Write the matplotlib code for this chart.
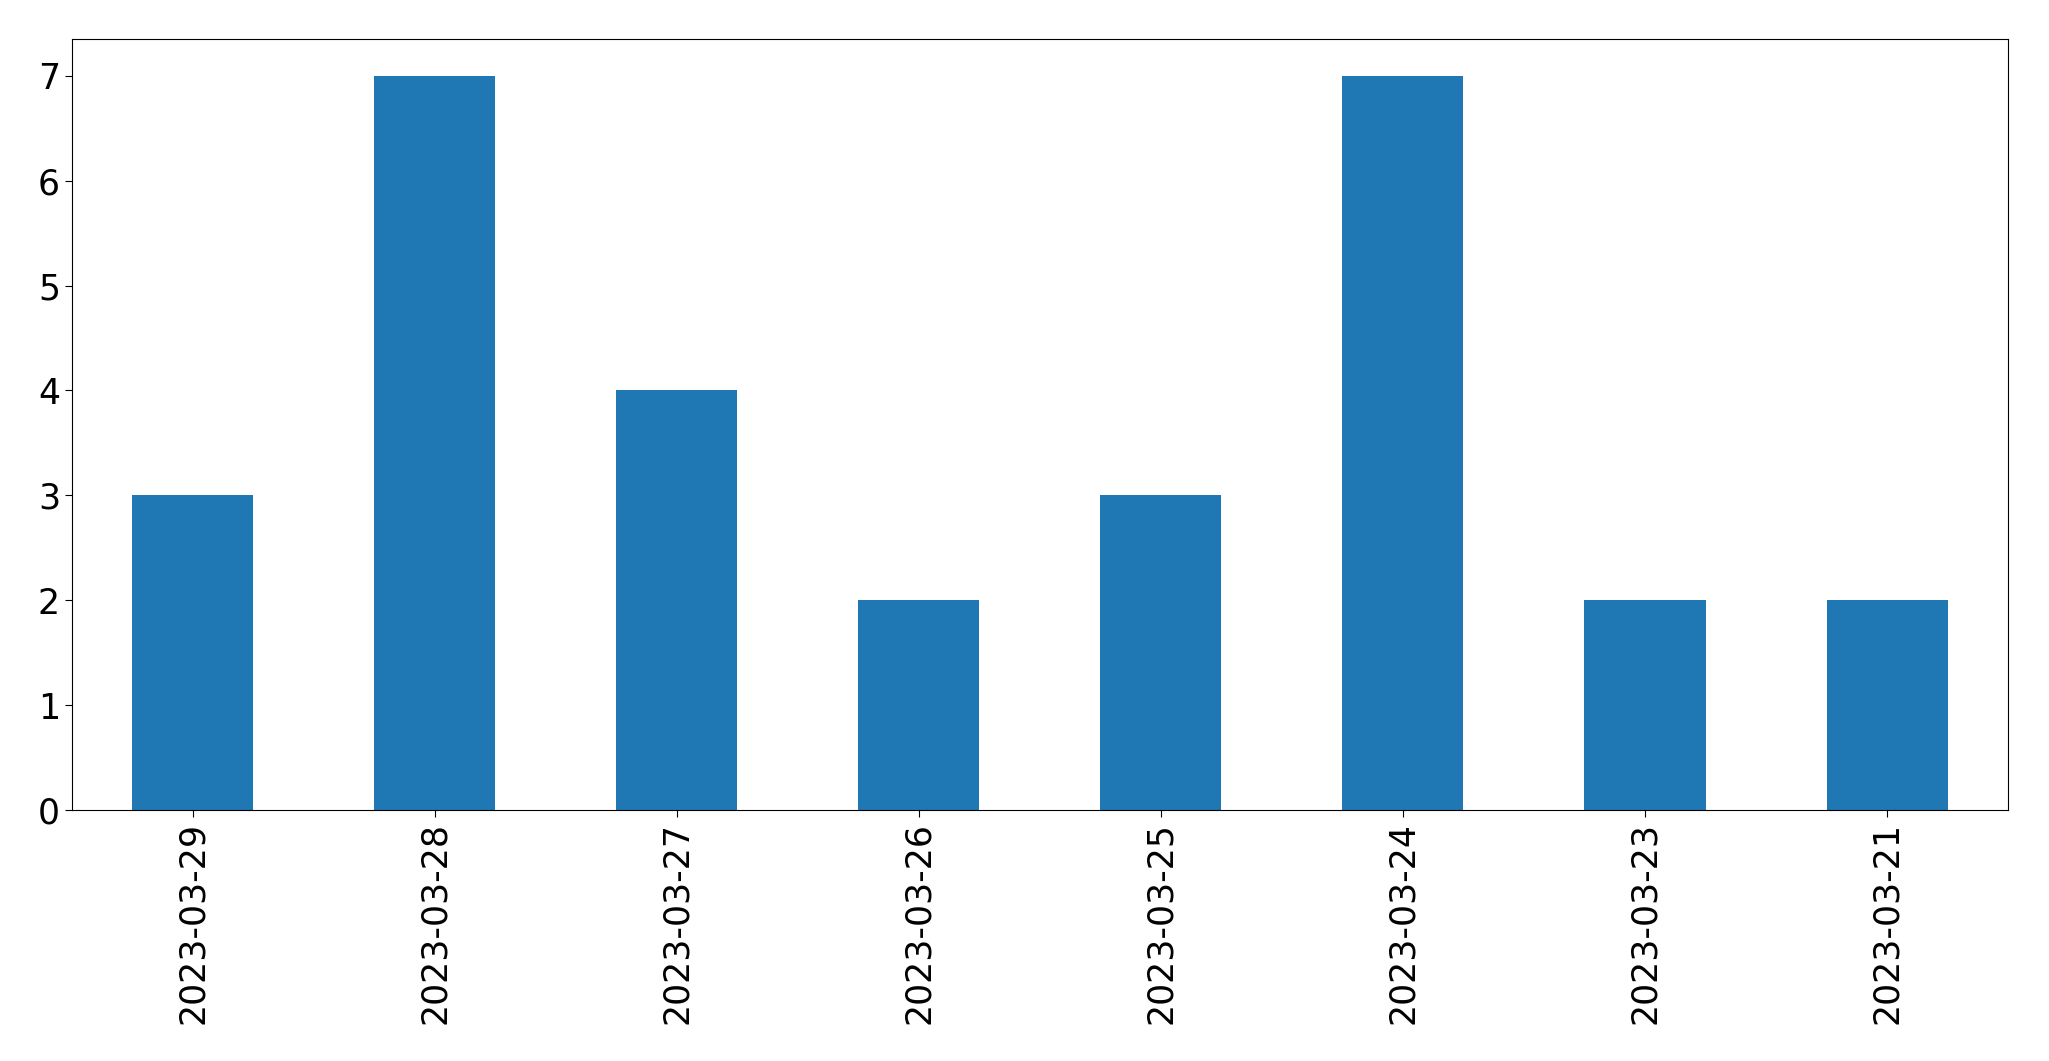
import pandas as pd
import matplotlib.pyplot as plt

# ========================================
# Data
# ========================================

dates = ["2023-03-29", "2023-03-28", "2023-03-27", "2023-03-26",
         "2023-03-25", "2023-03-24", "2023-03-23", "2023-03-21"]
counts = [3, 7, 4, 2, 3, 7, 2, 2]

series = pd.Series(counts, index=dates)

# ========================================
# Plot
# ========================================

fig = plt.figure(figsize=(20.49, 10.61), dpi=100)
ax = fig.add_axes([0.0351, 0.2365, 0.9449, 0.7267])

series.plot(kind="bar", ax=ax, color="#1f77b4")

ax.tick_params(axis="both", labelsize=25, length=5)
ax.set_xticklabels(dates, rotation=90)

fig.savefig("out.png", dpi=100)
